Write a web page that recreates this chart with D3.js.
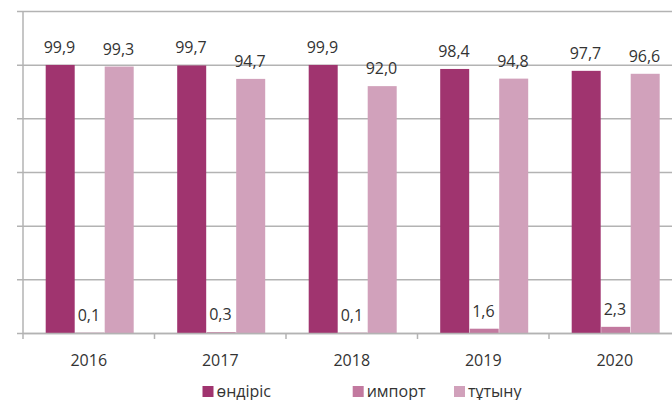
<!DOCTYPE html>
<html><head><meta charset="utf-8">
<script src="https://cdn.jsdelivr.net/npm/d3@7/dist/d3.min.js"></script>
<style>body{margin:0;background:#fff}svg{display:block}</style>
</head><body>
<svg id="c" width="672" height="400"></svg>
<script>
const years = ["2016","2017","2018","2019","2020"];
const seriesNames = ["өндіріс","импорт","тұтыну"];
const production = [99.9, 99.7, 99.9, 98.4, 97.7];
const imports = [0.1, 0.3, 0.1, 1.6, 2.3];
const consumption = [99.3, 94.7, 92.0, 94.8, 96.6];
const yTicks = [0,20,40,60,80,100,120];
const colors = ["#a0346f","#c2799f","#d1a1bb"];

(function(){
const seriesValues = [production, imports, consumption];
const svg = d3.select("#c");
const font = "'Open Sans', sans-serif";
const mLeft = 23, mRight = 680.5, mTop = 11, mBottom = 333;

const x = d3.scaleBand().domain(years).range([mLeft, mRight]).paddingInner(0).paddingOuter(0);
const x1 = d3.scaleBand().domain(seriesNames).range([22.7, 22.7+88.5]);
const y = d3.scaleLinear().domain([0,120]).range([mBottom, mTop]);

// gridlines
const yAxis = d3.axisLeft(y).tickValues(yTicks).tickSize(-(mRight-mLeft)).tickSizeOuter(0).tickFormat("");
const gy = svg.append("g").attr("transform",`translate(${mLeft},0)`).call(yAxis);
gy.select(".domain").remove();
gy.selectAll(".tick line").attr("stroke","#b3b3b3").attr("stroke-width",1.5).attr("x1",-6);

// bars
years.forEach((yr,i)=>{
  const g = svg.append("g").attr("transform",`translate(${x(yr)},0)`);
  seriesNames.forEach((s,j)=>{
    const v = seriesValues[j][i];
    g.append("rect").attr("x",x1(s)).attr("width",x1.bandwidth()-0.5)
      .attr("y",y(v)).attr("height",y(0)-y(v)).attr("fill",colors[j]);
    g.append("text").attr("x",x1(s)+x1.bandwidth()/2-1).attr("y",y(v)-12)
      .attr("text-anchor","middle").attr("font-family",font).attr("font-size",16)
      .attr("fill","#333").text(String(v.toFixed(1)).replace(".",","));
  });
});

// left axis line
svg.append("line").attr("x1",mLeft).attr("x2",mLeft).attr("y1",mTop).attr("y2",mBottom)
  .attr("stroke","#b3b3b3").attr("stroke-width",1.5);

// bottom axis
const xAxis = d3.axisBottom(x).tickSize(0).tickSizeOuter(0);
const gx = svg.append("g").attr("transform",`translate(0,${mBottom})`).call(xAxis);
gx.select(".domain").attr("stroke","#b3b3b3").attr("stroke-width",1.5);
gx.selectAll(".tick text").attr("font-family",font).attr("font-size",16).attr("fill","#333").attr("dy",0).attr("y",33);
// band boundary ticks
svg.append("g").selectAll("line").data(years).join("line")
  .attr("x1",d=>x(d)).attr("x2",d=>x(d)).attr("y1",mBottom).attr("y2",mBottom+6)
  .attr("stroke","#b3b3b3").attr("stroke-width",1.5);

// legend
const legX = [202.5, 352.7, 454];
const lg = svg.append("g");
seriesNames.forEach((s,j)=>{
  lg.append("rect").attr("x",legX[j]).attr("y",386).attr("width",11).attr("height",11).attr("fill",colors[j]);
  lg.append("text").attr("x",legX[j]+14).attr("y",396.5).attr("font-family",font).attr("font-size",16)
    .attr("fill","#333").text(s);
});
})();
</script>
</body></html>
